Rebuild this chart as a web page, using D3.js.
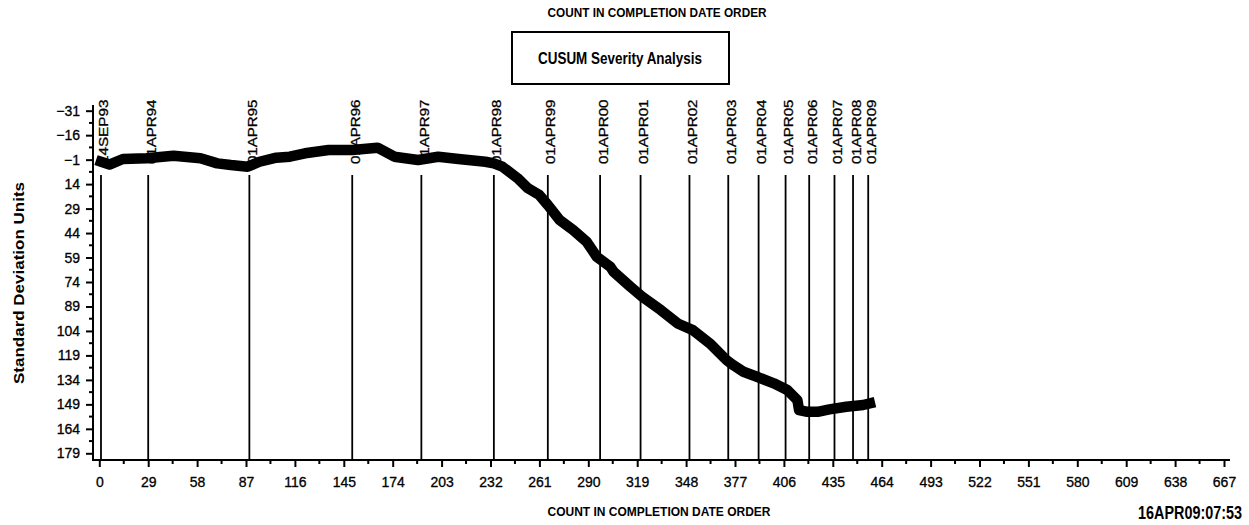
<!DOCTYPE html>
<html>
<head>
<meta charset="utf-8">
<script src="https://cdn.jsdelivr.net/npm/d3@7"></script>
<style>
    body { margin: 0; background: #fff; }
    #chart { width: 1249px; height: 525px; }
    text { font-family: "Liberation Sans Narrow", "Liberation Sans", Arial, sans-serif; fill: #000; }
</style>
</head>
<body>
<div id="chart"></div>
<script>

// cusum curve (count, standard deviation units)
var counts = [1, 6, 14, 28, 44, 60, 70, 78, 88, 95, 105, 113, 122, 136, 150, 165, 175, 189, 201, 213,
    229, 234, 239, 248, 254, 261, 266, 273, 281, 289, 295, 303, 305, 315, 322, 333, 343, 352, 362, 372,
    376, 382, 390, 400, 408, 414, 415, 420, 426, 433, 443, 453, 457];
var cusum = [0.3, 2, -1.4, -1.8, -3.4, -1.8, 1.3, 2.3, 3.3, 0.3, -2.2, -2.8, -4.9, -6.9, -6.9, -8.3, -2.8, -0.8, -2.8, -1.4,
    0.3, 1.3, 3.3, 10.3, 16.4, 20.7, 26.8, 36, 42.1, 49.3, 58.5, 64.6, 67.7, 76.9, 83, 91.2, 99.4, 103.5, 111.6, 121.9,
    125, 129, 132.1, 136.1, 140.2, 146.4, 152.5, 153.6, 153.6, 152.1, 150.5, 149.4, 148.4];

// reference dates and where they fall in the count order
var refDates = ["14SEP93", "01APR94", "01APR95", "01APR96", "01APR97", "01APR98", "01APR99", "01APR00",
    "01APR01", "01APR02", "01APR03", "01APR04", "01APR05", "01APR06", "01APR07", "01APR08", "01APR09"];
var refCounts = [1, 29, 89, 150, 191, 234, 266, 297, 321, 350, 373, 391, 407, 421, 436, 447, 456];

var xTicks = [0, 29, 58, 87, 116, 145, 174, 203, 232, 261, 290, 319, 348, 377, 406, 435, 464, 493, 522, 551, 580, 609, 638, 667];
var yTicks = [-31, -16, -1, 14, 29, 44, 59, 74, 89, 104, 119, 134, 149, 164, 179];

var width = 1249, height = 525;

var svg = d3.select("#chart")
    .append("svg")
    .attr("width", width)
    .attr("height", height);

var x = d3.scaleLinear().domain([0, 667]).range([99.3, 1224]);
var y = d3.scaleLinear().domain([-31, 179]).range([110.7, 453.3]);

var plotBottom = 460, plotLeft = 93;

// titles
svg.append("text")
    .attr("x", 657).attr("y", 17)
    .attr("text-anchor", "middle")
    .attr("font-size", 12.5).attr("font-weight", "bold")
    .attr("textLength", 219).attr("lengthAdjust", "spacingAndGlyphs")
    .text("COUNT IN COMPLETION DATE ORDER");

svg.append("rect")
    .attr("x", 512).attr("y", 32)
    .attr("width", 217).attr("height", 52)
    .attr("fill", "none").attr("stroke", "#000").attr("stroke-width", 2);

svg.append("text")
    .attr("x", 620).attr("y", 64)
    .attr("text-anchor", "middle")
    .attr("font-size", 17).attr("font-weight", "bold")
    .attr("textLength", 164).attr("lengthAdjust", "spacingAndGlyphs")
    .text("CUSUM Severity Analysis");

svg.append("text")
    .attr("x", 659).attr("y", 516)
    .attr("text-anchor", "middle")
    .attr("font-size", 12.5).attr("font-weight", "bold")
    .attr("textLength", 223).attr("lengthAdjust", "spacingAndGlyphs")
    .text("COUNT IN COMPLETION DATE ORDER");

// run stamp, squeezed sideways with a scale so its box stays inside the page
var stamp = svg.append("text")
    .attr("font-family", "'Liberation Sans', Arial, sans-serif")
    .attr("font-size", 18).attr("font-weight", "bold")
    .attr("text-anchor", "end")
    .text("16APR09:07:53");
var stampW = stamp.node().getComputedTextLength();
stamp.attr("transform", "translate(1242,519) scale(" + (104 / stampW) + ",1)");

svg.append("text")
    .attr("transform", "translate(24,283) rotate(-90)")
    .attr("text-anchor", "middle")
    .attr("font-size", 15).attr("font-weight", "bold")
    .attr("textLength", 202).attr("lengthAdjust", "spacingAndGlyphs")
    .text("Standard Deviation Units");

// reference lines + rotated date labels
svg.selectAll(".refline")
    .data(refCounts)
    .enter()
    .append("line")
        .attr("class", "refline")
        .attr("x1", function(d) { return x(d); })
        .attr("x2", function(d) { return x(d); })
        .attr("y1", 175)
        .attr("y2", plotBottom)
        .attr("stroke", "#000")
        .attr("stroke-width", 1.8);

svg.selectAll(".reflabel")
    .data(refDates)
    .enter()
    .append("text")
        .attr("class", "reflabel")
        .attr("transform", function(d, i) { return "translate(" + (x(refCounts[i]) + 7.5) + ",164) rotate(-90)"; })
        .attr("font-family", "'Liberation Sans', Arial, sans-serif")
        .attr("font-size", 12.5)
        .attr("stroke", "#000").attr("stroke-width", 0.3)
        .attr("textLength", function(d) { return d.length * 9.2; })
        .attr("lengthAdjust", "spacingAndGlyphs")
        .text(function(d) { return d; });

// axes
var xAxis = svg.append("g")
    .attr("transform", "translate(0," + plotBottom + ")")
    .call(d3.axisBottom(x).tickValues(xTicks).tickSize(7).tickFormat(d3.format("d")));
xAxis.select(".domain").remove();
xAxis.selectAll(".tick line").attr("stroke-width", 2);
xAxis.selectAll(".tick text")
    .attr("y", 27).attr("dy", 0)
    .attr("font-size", 14)
    .attr("stroke", "#000").attr("stroke-width", 0.3)
    .attr("font-family", "'Liberation Sans Narrow', 'Liberation Sans', Arial, sans-serif");

var xMinor = d3.range(0, xTicks.length - 1).map(function(i) { return (xTicks[i] + xTicks[i + 1]) / 2; });
svg.selectAll(".xminor")
    .data(xMinor)
    .enter()
    .append("line")
        .attr("class", "xminor")
        .attr("x1", function(d) { return x(d); })
        .attr("x2", function(d) { return x(d); })
        .attr("y1", plotBottom)
        .attr("y2", plotBottom + 4)
        .attr("stroke", "#000")
        .attr("stroke-width", 2);

var yAxis = svg.append("g")
    .attr("transform", "translate(" + plotLeft + ",0)")
    .call(d3.axisLeft(y).tickValues(yTicks).tickSize(7).tickFormat(function(d) { return d < 0 ? "\u2212" + (-d) : d; }));
yAxis.select(".domain").remove();
yAxis.selectAll(".tick line").attr("stroke-width", 2);
yAxis.selectAll(".tick text")
    .attr("x", -13)
    .attr("font-size", 14)
    .attr("stroke", "#000").attr("stroke-width", 0.3)
    .attr("font-family", "'Liberation Sans Narrow', 'Liberation Sans', Arial, sans-serif");

var yMinor = d3.range(0, yTicks.length - 1).map(function(i) { return (yTicks[i] + yTicks[i + 1]) / 2; });
svg.selectAll(".yminor")
    .data(yMinor)
    .enter()
    .append("line")
        .attr("class", "yminor")
        .attr("x1", plotLeft - 4)
        .attr("x2", plotLeft)
        .attr("y1", function(d) { return y(d); })
        .attr("y2", function(d) { return y(d); })
        .attr("stroke", "#000")
        .attr("stroke-width", 2);

svg.append("line")
    .attr("x1", plotLeft).attr("x2", 1230)
    .attr("y1", plotBottom).attr("y2", plotBottom)
    .attr("stroke", "#000").attr("stroke-width", 2);
svg.append("line")
    .attr("x1", plotLeft).attr("x2", plotLeft)
    .attr("y1", 105).attr("y2", plotBottom + 1)
    .attr("stroke", "#000").attr("stroke-width", 2);

// the cusum trace, drawn on top of the labels
var points = counts.map(function(c, i) { return [c, cusum[i]]; });
var line = d3.line()
    .x(function(d) { return x(d[0]); })
    .y(function(d) { return y(d[1]); });

svg.append("path")
    .datum(points)
    .attr("d", line)
    .attr("fill", "none")
    .attr("stroke", "#000")
    .attr("stroke-width", 10.5)
    .attr("stroke-linejoin", "round")
    .attr("stroke-linecap", "square");

</script>
</body>
</html>
